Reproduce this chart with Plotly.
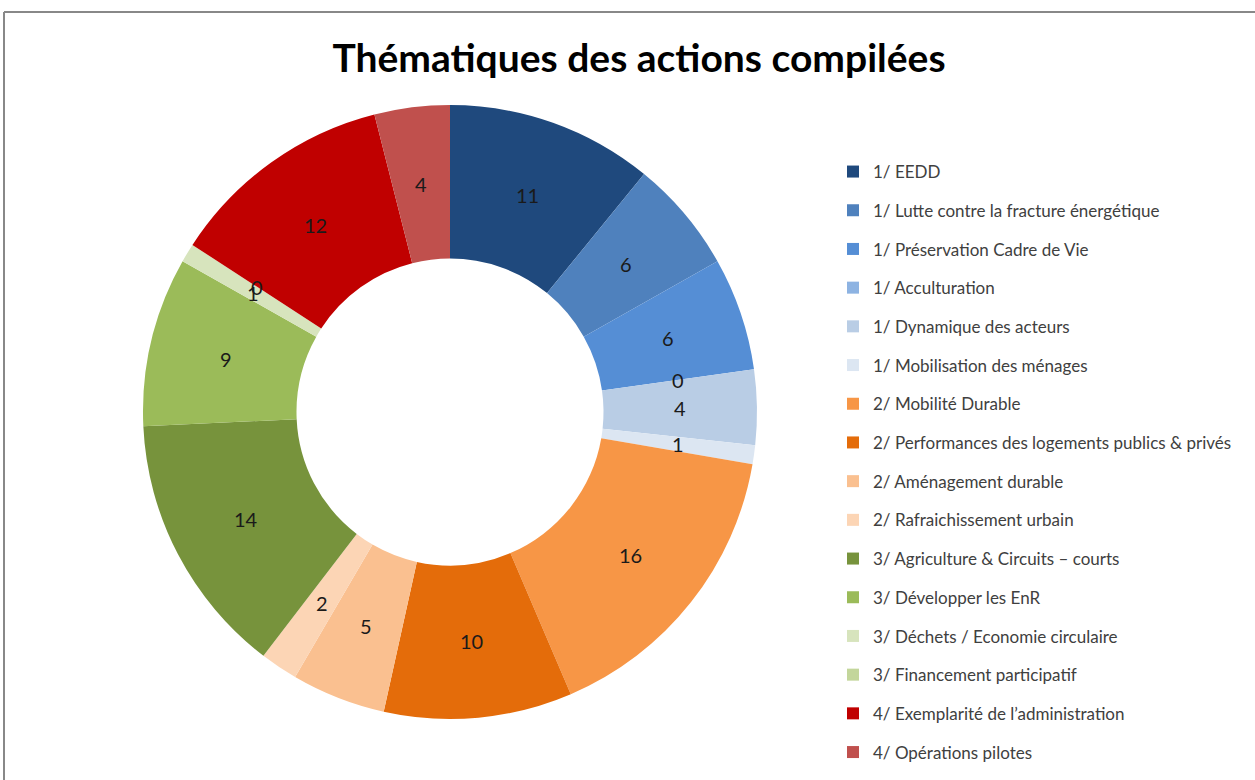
import math
import plotly.graph_objects as go

title = "Thématiques des actions compilées"
labels = [
    "1/ EEDD",
    "1/ Lutte contre la fracture énergétique",
    "1/ Préservation Cadre de Vie",
    "1/ Acculturation",
    "1/ Dynamique des acteurs",
    "1/ Mobilisation des ménages",
    "2/ Mobilité Durable",
    "2/ Performances des logements publics & privés",
    "2/ Aménagement durable",
    "2/ Rafraichissement urbain",
    "3/ Agriculture & Circuits – courts",
    "3/ Développer les EnR",
    "3/ Déchets / Economie circulaire",
    "3/ Financement participatif",
    "4/ Exemplarité de l’administration",
    "4/ Opérations pilotes",
]
values = [11, 6, 6, 0, 4, 1, 16, 10, 5, 2, 14, 9, 1, 0, 12, 4]
colors = [
    "#1F497D", "#4F81BD", "#558ED5", "#8DB3E2", "#B9CDE5", "#DCE6F2",
    "#F79646", "#E46C0A", "#FAC090", "#FCD5B5",
    "#77933C", "#9BBB59", "#D7E4BD", "#C3D69B",
    "#C00000", "#C0504D",
]

W, H = 1255, 780
FONT = "Lato, 'Open Sans', sans-serif"
dom_x = [143 / W, 757 / W]
dom_y = [61 / H, 675 / H]
hole = 0.5

fig = go.Figure()
fig.add_trace(go.Pie(
    labels=labels, values=values, sort=False, direction="clockwise", rotation=0,
    hole=hole, marker=dict(colors=colors, line=dict(width=0)),
    textinfo="none", domain=dict(x=dom_x, y=dom_y), showlegend=False,
    hoverinfo="label+value",
))

# data labels at the middle of the ring, horizontally, at each slice's mid-angle
total = sum(values)
cx = (dom_x[0] + dom_x[1]) / 2
cy = (dom_y[0] + dom_y[1]) / 2
R_px = (dom_x[1] - dom_x[0]) * W / 2
r_mid = R_px * (1 + hole) / 2
cum = 0
for lab, v in zip(labels, values):
    ang = 2 * math.pi * (cum + v / 2) / total
    x = cx + r_mid * math.sin(ang) / W
    y = cy + r_mid * math.cos(ang) / H
    fig.add_annotation(x=x, y=y, xref="paper", yref="paper", text=str(v),
                       showarrow=False, xanchor="center", yanchor="middle",
                       font=dict(family=FONT, size=20, color="#1a1a1a"))
    cum += v

# legend entries (one group each so the spacing matches)
for i, (lab, col) in enumerate(zip(labels, colors)):
    fig.add_trace(go.Scatter(
        x=[None], y=[None], mode="markers", name=lab, legendgroup=f"g{i}",
        marker=dict(symbol="square", size=10, color=col), showlegend=True,
        hoverinfo="skip",
    ))

fig.update_layout(
    width=W, height=H, margin=dict(l=0, r=0, t=0, b=0),
    paper_bgcolor="white", plot_bgcolor="white",
    title=dict(text=f"<b>{title}</b>", x=639 / W, xanchor="center", y=1 - 58 / H, yanchor="middle",
               font=dict(family=FONT, size=39, color="#000000")),
    xaxis=dict(visible=False), yaxis=dict(visible=False),
    legend=dict(x=833 / W, xanchor="left", y=1 - 154 / H, yanchor="top",
                font=dict(family=FONT, size=17, color="#404040"),
                tracegroupgap=13.6, itemsizing="constant", bgcolor="rgba(0,0,0,0)"),
    shapes=[
        dict(type="line", xref="paper", yref="paper", x0=4 / W, x1=1.0, y0=1 - 12 / H, y1=1 - 12 / H,
             line=dict(color="#888888", width=2)),
        dict(type="line", xref="paper", yref="paper", x0=4 / W, x1=4 / W, y0=0, y1=1 - 12 / H,
             line=dict(color="#888888", width=2)),
    ],
)

fig.write_html("out.html", config={"displayModeBar": False},
               post_script="document.body.style.margin='0';")
